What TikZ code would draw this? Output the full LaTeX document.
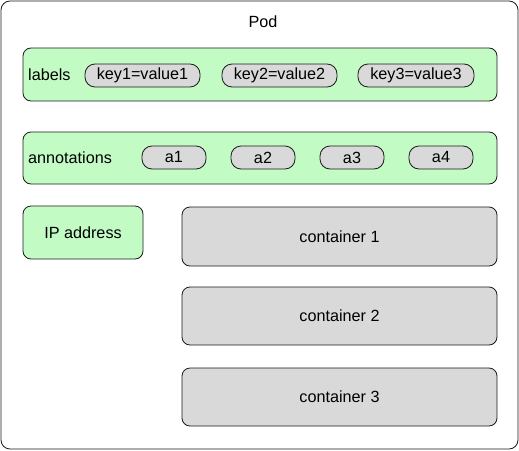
\documentclass[tikz,border=0pt]{standalone}
\usepackage{fontspec}
\setmainfont{Liberation Sans}
\usepackage{tikz}
\usepackage{xcolor}
\usetikzlibrary{positioning}

\definecolor{podgreen}{HTML}{C2FCC4}
\definecolor{podgray}{HTML}{D9D9D9}
\definecolor{podline}{HTML}{1A1A1A}

\begin{document}
\begin{tikzpicture}[x=1pt,y=-1pt,
  every node/.style={font=\fontsize{16.2}{19}\selectfont, inner sep=0pt},
  outerbox/.style={draw=podline, line width=0.8pt, rounded corners=9pt, minimum width=517pt, minimum height=448pt},
  greenbox/.style={draw=podline, fill=podgreen, line width=0.8pt, rounded corners=8pt},
  pill/.style={draw=podline, fill=podgray, line width=0.8pt, rounded corners=10pt, minimum height=23pt},
  container/.style={draw=podline, fill=podgray, line width=0.8pt, rounded corners=8pt, minimum width=315pt, minimum height=58pt}]
\useasboundingbox (0,0) rectangle (519,450);

\node[outerbox] (pod) at (259.5,225) {};
\node (podtitle) at (263,22) {Pod};

\node[greenbox, minimum width=474pt, minimum height=53pt] (labels) at (260,74.5) {};
\node[anchor=west] (labelstext) at (28,75) {labels};
\node[pill, minimum width=115pt] (key1) at (142.5,75.5) {key1=value1};
\node[pill, minimum width=115pt] (key2) at (279.5,75.5) {key2=value2};
\node[pill, minimum width=116pt] (key3) at (416,75.5) {key3=value3};

\node[greenbox, minimum width=474pt, minimum height=52pt] (annotations) at (260,158) {};
\node[anchor=west] (annotext) at (28,158) {annotations};
\node[pill, minimum width=64pt] (a1) at (174,157.5) {a1};
\node[pill, minimum width=64pt] (a2) at (263,157.5) {a2};
\node[pill, minimum width=64pt] (a3) at (352,157.5) {a3};
\node[pill, minimum width=64pt] (a4) at (441,157.5) {a4};

\node[greenbox, minimum width=120pt, minimum height=53pt] (ip) at (83,232.5) {IP address};

\node[container, minimum height=59pt] (c1) at (339.5,236.5) {container 1};
\node[container] (c2) at (339.5,316) {container 2};
\node[container] (c3) at (339.5,397) {container 3};
\end{tikzpicture}
\end{document}
